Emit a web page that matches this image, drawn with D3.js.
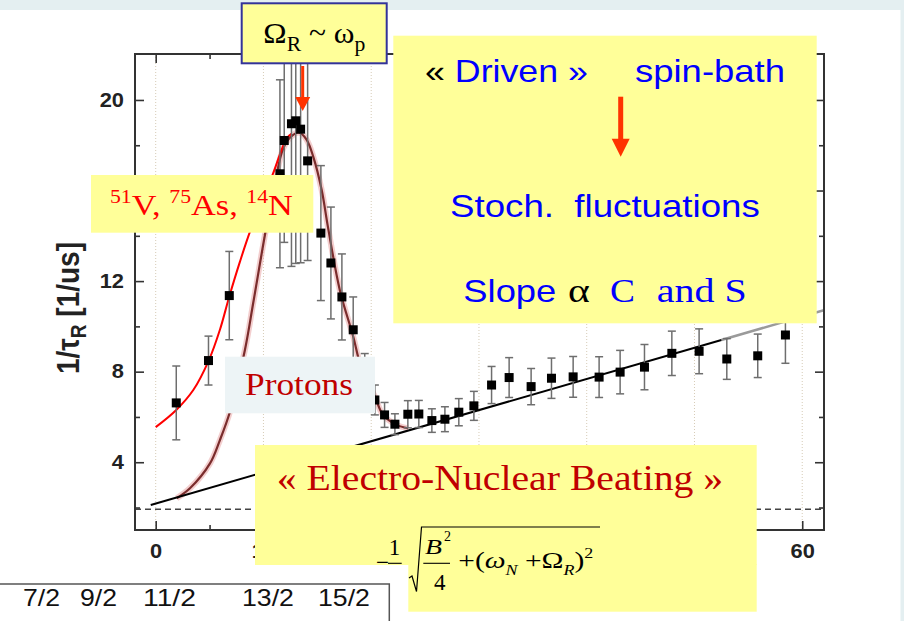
<!DOCTYPE html>
<html>
<head>
<meta charset="utf-8">
<script src="https://cdn.jsdelivr.net/npm/d3@7"></script>
<style>
  body { margin: 0; background: #fff; }
  svg { display: block; }
</style>
</head>
<body>
<svg id="chart" width="904" height="621"></svg>
<script>
// ---- data ----
const rateX = [1.91, 4.9, 6.83, 11.53, 11.93, 12.6, 13.0, 13.45, 14.1, 15.33, 16.26, 17.28, 18.33, 19.4, 20.34,
  21.24, 22.2, 23.4, 24.42, 25.63, 26.84, 28.13, 29.53, 31.17, 32.8, 34.84, 36.73, 38.74, 41.15, 43.1,
  45.36, 47.9, 50.43, 53.0, 55.87, 58.44];
const rateY = [6.62, 8.49, 11.36, 16.74, 18.21, 18.95, 19.08, 18.71, 17.31, 14.12, 12.8, 11.3, 9.85, 7.6, 6.75,
  6.09, 5.68, 6.12, 6.13, 5.84, 5.9, 6.21, 6.49, 7.41, 7.74, 7.34, 7.71, 7.77, 7.76, 7.98,
  8.2, 8.81, 8.9, 8.56, 8.7, 9.62];
const rateErr = [1.63, 1.08, 1.95, 4.15, 4.5, 6.3, 6.3, 5.9, 4.4, 2.98, 2.47, 1.9, 1.45, 1.2, 0.66,
  0.55, 0.46, 0.6, 0.6, 0.52, 0.55, 0.6, 0.64, 0.82, 0.88, 0.8, 0.89, 0.9, 0.9, 0.96,
  1.0, 0.98, 0.99, 0.9, 0.96, 1.25];

// proton resonance fit (brown)
const protonFitX = [1.95, 3.18, 5.04, 5.96, 6.9, 8.28, 9.05, 10.2, 11.07, 11.84, 12.6, 13.32, 14.0, 14.62,
  15.4, 16.0, 17.09, 18.33, 18.95, 19.6, 20.34, 21.1, 22.35, 23.43];
const protonFitY = [2.41, 2.85, 3.95, 4.98, 6.24, 8.96, 11.03, 14.2, 16.33, 17.87, 18.4, 18.56, 18.25, 17.5,
  16.03, 14.35, 11.6, 9.55, 8.37, 7.6, 6.9, 6.09, 5.65, 5.5];

// other nuclei fit (red)
const nucleiFitX = [0, 1.91, 3.49, 4.92, 5.96, 6.83, 7.82, 8.81, 10.85, 12.15, 12.6];
const nucleiFitY = [5.55, 6.31, 7.19, 8.49, 9.85, 11.32, 12.86, 14.26, 16.7, 18.3, 18.5];

// linear background (black) and its continuation (grey)
const slopeX = [-0.46, 52.5];
const slopeY = [2.11, 9.4];
const slopeExtX = [52.5, 62];
const slopeExtY = [9.4, 10.71];

const floorLevel = 1.92;

const xMajor = [0, 10, 20, 30, 40, 50, 60];
const xMinor = [5, 15, 25, 35, 45, 55];
const yMajor = [4, 8, 12, 16, 20];
const yMinor = [2, 6, 10, 14, 18];

const spinLabels = ['7/2', '9/2', '11/2', '13/2', '15/2'];

// ---- layout ----
const M = { left: 135, top: 54, right: 824, bottom: 530 };
const spinLeft = [23, 80, 143, 242, 318];
const spinWidth = [37, 37, 53, 52, 52];

const svg = d3.select('#chart');
const x = d3.scaleLinear().domain([-1.92, 62.02]).range([M.left, M.right]);
const y = d3.scaleLinear().domain([1.007, 22.03]).range([M.bottom, M.top]);

const SANS = "'Liberation Sans', Arial, sans-serif";
const SERIF = "'Liberation Serif', 'Times New Roman', serif";

// place a text so that it starts at x and spans width w (picture is horizontally stretched)
function fitText(parent, px, py, w, build) {
  const g = parent.append('g');
  const t = g.append('text').attr('x', 0).attr('y', 0);
  build(t);
  const bb = t.node().getBBox();
  g.attr('transform', `translate(${px - bb.x * w / bb.width},${py}) scale(${w / bb.width},1)`);
  return t;
}

// slide background strips
svg.append('rect').attr('x', 0).attr('y', 0).attr('width', 904).attr('height', 10).attr('fill', '#e4eff1');
svg.append('rect').attr('x', 900.5).attr('y', 0).attr('width', 4).attr('height', 621).attr('fill', '#e4eff1');

// ---- plot ----
svg.append('clipPath').attr('id', 'plotClip').append('rect')
  .attr('x', M.left).attr('y', M.top).attr('width', M.right - M.left).attr('height', M.bottom - M.top);

const plot = svg.append('g').attr('clip-path', 'url(#plotClip)');

plot.append('g').selectAll('line').data(xMajor).join('line')
  .attr('x1', d => x(d)).attr('x2', d => x(d))
  .attr('y1', M.top).attr('y2', M.bottom)
  .attr('stroke', '#d6cbb6').attr('stroke-width', 1).attr('stroke-dasharray', '1,2');

plot.append('line')
  .attr('x1', M.left).attr('x2', M.right)
  .attr('y1', y(floorLevel)).attr('y2', y(floorLevel))
  .attr('stroke', '#444').attr('stroke-width', 1.5).attr('stroke-dasharray', '6,4');

const smooth = d3.line().x(d => x(d[0])).y(d => y(d[1])).curve(d3.curveCatmullRom.alpha(0.5));
const straight = d3.line().x(d => x(d[0])).y(d => y(d[1]));

const protonPts = protonFitX.map((v, i) => [v, protonFitY[i]]);
plot.append('path').attr('d', smooth(protonPts)).attr('fill', 'none')
  .attr('stroke', '#eaa5a5').attr('stroke-width', 6).attr('stroke-opacity', 0.55);
plot.append('path').attr('d', smooth(protonPts)).attr('fill', 'none')
  .attr('stroke', '#7a2c2c').attr('stroke-width', 2.2);

plot.append('path').attr('d', smooth(nucleiFitX.map((v, i) => [v, nucleiFitY[i]])))
  .attr('fill', 'none').attr('stroke', '#ff0000').attr('stroke-width', 2);

plot.append('path').attr('d', straight(slopeExtX.map((v, i) => [v, slopeExtY[i]])))
  .attr('fill', 'none').attr('stroke', '#9a9a9a').attr('stroke-width', 2.5);
plot.append('path').attr('d', straight(slopeX.map((v, i) => [v, slopeY[i]])))
  .attr('fill', 'none').attr('stroke', '#000').attr('stroke-width', 2);

const pts = rateX.map((v, i) => ({ x: v, y: rateY[i], e: rateErr[i] }));
const eb = plot.append('g').attr('stroke', '#6e6e6e').attr('stroke-width', 1.5);
eb.selectAll('.bar').data(pts).join('line').attr('class', 'bar')
  .attr('x1', d => x(d.x)).attr('x2', d => x(d.x))
  .attr('y1', d => y(d.y - d.e)).attr('y2', d => y(d.y + d.e));
eb.selectAll('.capT').data(pts).join('line').attr('class', 'capT')
  .attr('x1', d => x(d.x) - 4).attr('x2', d => x(d.x) + 4)
  .attr('y1', d => y(d.y + d.e)).attr('y2', d => y(d.y + d.e));
eb.selectAll('.capB').data(pts).join('line').attr('class', 'capB')
  .attr('x1', d => x(d.x) - 4).attr('x2', d => x(d.x) + 4)
  .attr('y1', d => y(d.y - d.e)).attr('y2', d => y(d.y - d.e));

plot.append('g').selectAll('rect').data(pts).join('rect')
  .attr('x', d => x(d.x) - 4.5).attr('y', d => y(d.y) - 4.5)
  .attr('width', 9).attr('height', 9).attr('fill', '#000');

// ---- axes (inward ticks) ----
function tidy(g) {
  g.select('.domain').remove();
  g.selectAll('line').attr('stroke', '#333').attr('stroke-width', 1.6);
  g.selectAll('text').attr('font-family', SANS).attr('font-weight', 'bold')
    .attr('font-size', 19.5).attr('fill', '#222');
}
svg.append('g').attr('transform', `translate(0,${M.bottom})`)
  .call(d3.axisBottom(x).tickValues(xMajor).tickSize(-9).tickPadding(13.8).tickFormat(d3.format('d')))
  .call(tidy).call(g => g.selectAll('text').attr('transform', 'scale(1.12,1)'));
svg.append('g').attr('transform', `translate(0,${M.bottom})`)
  .call(d3.axisBottom(x).tickValues(xMinor).tickSize(-5).tickFormat('')).call(tidy);
svg.append('g').attr('transform', `translate(0,${M.top})`)
  .call(d3.axisTop(x).tickValues(xMajor).tickSize(-9).tickFormat('')).call(tidy);
svg.append('g').attr('transform', `translate(0,${M.top})`)
  .call(d3.axisTop(x).tickValues(xMinor).tickSize(-5).tickFormat('')).call(tidy);
svg.append('g').attr('transform', `translate(${M.left},0)`)
  .call(d3.axisLeft(y).tickValues(yMajor).tickSize(-9).tickPadding(11).tickFormat(d3.format('d')))
  .call(tidy).call(g => g.selectAll('text').attr('x', -11 / 1.12).attr('transform', 'scale(1.12,1)'));
svg.append('g').attr('transform', `translate(${M.left},0)`)
  .call(d3.axisLeft(y).tickValues(yMinor).tickSize(-5).tickFormat('')).call(tidy);
svg.append('g').attr('transform', `translate(${M.right},0)`)
  .call(d3.axisRight(y).tickValues(yMajor).tickSize(-9).tickFormat('')).call(tidy);
svg.append('g').attr('transform', `translate(${M.right},0)`)
  .call(d3.axisRight(y).tickValues(yMinor).tickSize(-5).tickFormat('')).call(tidy);

svg.append('rect').attr('x', M.left).attr('y', M.top)
  .attr('width', M.right - M.left).attr('height', M.bottom - M.top)
  .attr('fill', 'none').attr('stroke', '#333').attr('stroke-width', 2);

// y title
const yt = svg.append('g').attr('transform', 'translate(79,308) scale(1.15,1) rotate(-90)')
  .append('text').attr('text-anchor', 'middle')
  .attr('font-family', SANS).attr('font-weight', 'bold').attr('font-size', 28).attr('fill', '#222');
yt.append('tspan').text('1/τ');
yt.append('tspan').attr('font-size', 19).attr('dy', 6).text('R');
yt.append('tspan').attr('dy', -6).text(' [1/us]');

// ---- annotation boxes ----
const ann = svg.append('g');
const YEL = '#ffff99';

// Omega box
ann.append('rect').attr('x', 241.7).attr('y', 3.3).attr('width', 145).attr('height', 60)
  .attr('fill', YEL).attr('stroke', '#333399').attr('stroke-width', 2);
fitText(ann, 263.3, 43.3, 102, t => {
  t.attr('font-family', SERIF).attr('font-size', 29).attr('fill', '#000');
  t.append('tspan').text('Ω');
  t.append('tspan').attr('font-size', 20).attr('dy', 8).text('R');
  t.append('tspan').attr('dy', -8).text(' ~ ω');
  t.append('tspan').attr('font-size', 20).attr('dy', 8).text('p');
});

const ARROW = '#ff3300';
function arrow(xc, y0, y1, head, shaftW, headW) {
  ann.append('line').attr('x1', xc).attr('x2', xc).attr('y1', y0).attr('y2', y1 - head + 1)
    .attr('stroke', ARROW).attr('stroke-width', shaftW);
  ann.append('path')
    .attr('d', `M${xc - headW / 2},${y1 - head}L${xc + headW / 2},${y1 - head}L${xc},${y1}Z`)
    .attr('fill', ARROW);
}
arrow(302.7, 66, 111, 14, 3, 15);

// big spin-bath box
ann.append('rect').attr('x', 393.3).attr('y', 35.7).attr('width', 423.4).attr('height', 287.6).attr('fill', YEL);
fitText(ann, 425, 81.7, 163, t => {
  t.attr('font-family', SANS).attr('font-size', 32).attr('fill', '#0000ff');
  t.append('tspan').attr('fill', '#000').text('«');
  t.append('tspan').text(' Driven »');
});
fitText(ann, 635, 81.7, 150, t => {
  t.attr('font-family', SANS).attr('font-size', 32).attr('fill', '#0000ff').text('spin-bath');
});
arrow(620.7, 96.7, 156.7, 18, 5, 18);
fitText(ann, 450, 216.7, 310, t => {
  t.attr('font-family', SANS).attr('font-size', 32).attr('fill', '#0000ff')
    .style('white-space', 'pre').text('Stoch.  fluctuations');
});
fitText(ann, 463.3, 301.7, 93, t => {
  t.attr('font-family', SANS).attr('font-size', 32).attr('fill', '#0000ff').text('Slope');
});
fitText(ann, 568, 301.7, 22, t => {
  t.attr('font-family', SERIF).attr('font-size', 34).attr('fill', '#000').text('α');
});
fitText(ann, 610, 301.7, 25, t => {
  t.attr('font-family', SERIF).attr('font-size', 34).attr('fill', '#0000ff').text('C');
});
fitText(ann, 656.7, 301.7, 90, t => {
  t.attr('font-family', SERIF).attr('font-size', 34).attr('fill', '#0000ff').text('and S');
});

// other nuclei box
ann.append('rect').attr('x', 91).attr('y', 175).attr('width', 222.3).attr('height', 57.7).attr('fill', YEL);
fitText(ann, 110, 215, 183, t => {
  t.attr('font-family', SERIF).attr('font-size', 30).attr('fill', '#ff0000');
  t.append('tspan').attr('font-size', 19).attr('dy', -12).text('51');
  t.append('tspan').attr('dy', 12).text('V, ');
  t.append('tspan').attr('font-size', 19).attr('dy', -12).text('75');
  t.append('tspan').attr('dy', 12).text('As, ');
  t.append('tspan').attr('font-size', 19).attr('dy', -12).text('14');
  t.append('tspan').attr('dy', 12).text('N');
});

// protons box
ann.append('rect').attr('x', 225).attr('y', 356.7).attr('width', 150).attr('height', 56.6).attr('fill', '#edf4f6');
fitText(ann, 245, 395, 108, t => {
  t.attr('font-family', SERIF).attr('font-size', 32).attr('fill', '#c00000').text('Protons');
});

// electro-nuclear beating box
ann.append('rect').attr('x', 255).attr('y', 445).attr('width', 501.7).attr('height', 120).attr('fill', YEL);
ann.append('rect').attr('x', 408.3).attr('y', 564).attr('width', 348.4).attr('height', 47.7).attr('fill', YEL);
fitText(ann, 276.7, 490, 446.6, t => {
  t.attr('font-family', SERIF).attr('font-size', 36).attr('fill', '#c00000').text('« Electro-Nuclear Beating »');
});

// formula
const fm = ann.append('g').attr('font-family', SERIF).attr('fill', '#000');
fm.append('text').attr('x', 376).attr('y', 570).attr('font-size', 23).text('−');
fm.append('line').attr('x1', 388).attr('x2', 401.7).attr('y1', 563.3).attr('y2', 563.3).attr('stroke', '#000').attr('stroke-width', 1.1);
fm.append('text').attr('x', 394.5).attr('y', 555).attr('font-size', 23).attr('text-anchor', 'middle').text('1');
fm.append('path').attr('d', 'M409,578L412,576L416.5,591.5L421.5,527L600,527')
  .attr('fill', 'none').attr('stroke', '#000').attr('stroke-width', 1.2);
fitText(fm, 425, 554, 17, t => {
  t.attr('font-size', 22).attr('font-style', 'italic').text('B');
});
fm.append('text').attr('x', 444).attr('y', 541).attr('font-size', 14).text('2');
fm.append('line').attr('x1', 423.3).attr('x2', 450).attr('y1', 563.3).attr('y2', 563.3).attr('stroke', '#000').attr('stroke-width', 1.1);
fm.append('text').attr('x', 439.7).attr('y', 590).attr('font-size', 23).attr('text-anchor', 'middle').text('4');
fitText(fm, 458.3, 568.3, 135, t => {
  t.attr('font-size', 23).style('white-space', 'pre');
  t.append('tspan').text('+(');
  t.append('tspan').attr('font-style', 'italic').text('ω');
  t.append('tspan').attr('font-style', 'italic').attr('font-size', 14).attr('dy', 7).text('N');
  t.append('tspan').attr('dy', -7).text(' +Ω');
  t.append('tspan').attr('font-style', 'italic').attr('font-size', 14).attr('dy', 7).text('R');
  t.append('tspan').attr('dy', -7).text(')');
  t.append('tspan').attr('font-size', 14).attr('dy', -10).text('2');
});

// spin legend box at the bottom
ann.append('rect').attr('x', -2).attr('y', 584).attr('width', 391.3).attr('height', 45)
  .attr('fill', '#fff').attr('stroke', '#555').attr('stroke-width', 1.5);
spinLabels.forEach((s, i) => {
  fitText(ann, spinLeft[i], 606, spinWidth[i], t => {
    t.attr('font-family', SANS).attr('font-size', 23).attr('fill', '#111').text(s);
  });
});
</script>
</body>
</html>
